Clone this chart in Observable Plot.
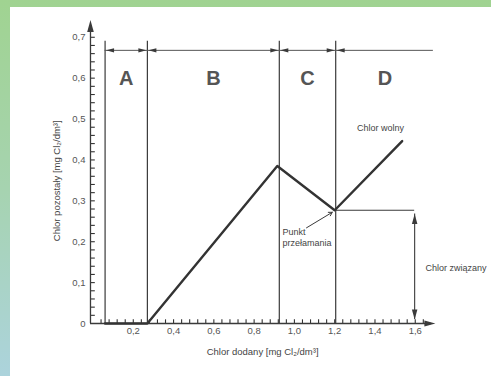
<!DOCTYPE html>
<html>
<head>
<meta charset="utf-8">
<script src="https://cdn.jsdelivr.net/npm/d3@7"></script>
<script src="https://cdn.jsdelivr.net/npm/@observablehq/plot@0.6"></script>
<style>
  html, body { margin: 0; padding: 0; }
  #wrap { position: relative; width: 491px; height: 376px; overflow: hidden;
          background: linear-gradient(to bottom, #a0d391 0%, #a6d3b0 50%, #acd3dc 100%); }
  #paper { position: absolute; left: 10px; top: 7px; right: 0; bottom: 0; background: #fff; }
  #chart { position: absolute; left: 0; top: 0; }
  #chart svg { background: transparent; }
</style>
</head>
<body>
<div id="wrap"><div id="paper"></div><div id="chart"></div></div>
<script>
// ---- data ----
const curveX = [0.06, 0.27, 0.915, 1.2, 1.535];
const curveY = [0, 0, 0.385, 0.277, 0.446];
const boundaries = [0.06, 0.27, 0.925, 1.205];
const zoneLabels = ["A", "B", "C", "D"];
const zoneCenters = [0.165, 0.598, 1.065, 1.45];
const yTicks = [0, 0.1, 0.2, 0.3, 0.4, 0.5, 0.6, 0.7];
const yTickLabels = ["0", "0,1", "0,2", "0,3", "0,4", "0,5", "0,6", "0,7"];
const xTicks = [0.2, 0.4, 0.6, 0.8, 1.0, 1.2, 1.4, 1.6];
const xTickLabels = ["0,2", "0,4", "0,6", "0,8", "1,0", "1,2", "1,4", "1,6"];
const breakPoint = {x: 1.2, y: 0.277};
const boundChlorX = 1.597;
const xTitle = "Chlor dodany [mg Cl₂/dm³]";
const yTitle = "Chlor pozostały [mg Cl₂/dm³]";
const notesMiddle = [
  {text: "Chlor wolny", x: 1.427, y: 0.478}
];
const notesStart = [
  {text: "Punkt", x: 0.941, y: 0.2244},
  {text: "przełamania", x: 0.941, y: 0.1976},
  {text: "Chlor związany", x: 1.651, y: 0.1366}
];

// ---- helpers ----
const curve = curveX.map((x, i) => ({x, y: curveY[i]}));
const axisX0 = -0.0125;
const xMax = 1.7, yMax = 0.742;
const arrowY = 0.668, boundTop = 0.69;
const yMinor = d3.range(0.02, 0.7001, 0.02);
const xMinor = d3.range(0.04, 1.641, 0.04);
const ink = "#3a3a3a";
const head = {
  draw(ctx, size) {
    const r = Math.sqrt(size / Math.PI);
    ctx.moveTo(0, 0);
    ctx.lineTo(0.55 * r, 2 * r);
    ctx.lineTo(-0.55 * r, 2 * r);
    ctx.closePath();
  }
};
const topLeftHeads = boundaries.map(b => ({x: b}));
const topRightHeads = boundaries.slice(1).map(b => ({x: b}));
const zones = zoneLabels.map((t, i) => ({t, x: zoneCenters[i]}));

const chart = Plot.plot({
  width: 491, height: 376,
  marginLeft: 92.5, marginRight: 56.1, marginTop: 19.6, marginBottom: 53,
  x: {domain: [0, xMax]},
  y: {domain: [0, yMax]},
  style: {fontFamily: "'Liberation Sans', Arial, sans-serif", fontSize: "9.5px", color: "#555", background: "transparent"},
  marks: [
    // axes labels
    Plot.axisY({ticks: yTicks, tickFormat: d => yTickLabels[yTicks.indexOf(d)], tickSize: 0, tickPadding: 7.5, label: null}),
    Plot.axisX({ticks: xTicks, tickFormat: d => xTickLabels[xTicks.indexOf(d)], tickSize: 0, tickPadding: 4, label: null}),
    // minor ticks
    Plot.ruleY(yMinor, {y: d => d, x1: axisX0, x2: axisX0 + 0.024, stroke: "#333", strokeWidth: 1.1}),
    Plot.ruleX(xMinor, {x: d => d, y1: 0, y2: 0.009, stroke: "#333", strokeWidth: 1.1}),
    // axis lines
    Plot.ruleX([axisX0], {y1: 0, y2: 0.72, stroke: ink, strokeWidth: 1.3}),
    Plot.ruleY([0], {x1: axisX0, x2: 1.68, stroke: ink, strokeWidth: 1.3}),
    Plot.dot([{x: axisX0, y: yMax}], {x: "x", y: "y", symbol: head, r: 6, fill: ink, stroke: "none"}),
    Plot.dot([{x: xMax, y: 0}], {x: "x", y: "y", symbol: head, r: 5.5, rotate: 90, fill: ink, stroke: "none"}),
    // zone boundaries
    Plot.ruleX(boundaries, {x: d => d, y1: 0, y2: boundTop, stroke: ink, strokeWidth: 1.2}),
    Plot.ruleY([arrowY], {x1: boundaries[0], x2: 1.69, stroke: "#555", strokeWidth: 1}),
    Plot.dot(topLeftHeads, {x: "x", y: arrowY, dx: 1, symbol: head, r: 4, rotate: -90, fill: ink, stroke: "none"}),
    Plot.dot(topRightHeads, {x: "x", y: arrowY, dx: -1, symbol: head, r: 4, rotate: 90, fill: ink, stroke: "none"}),
    Plot.text(zones, {x: "x", y: 0.6, text: "t", fontSize: 20, fontWeight: "bold", fill: "#555"}),
    // bound chlorine bracket
    Plot.ruleY([breakPoint.y], {x1: breakPoint.x, x2: boundChlorX, stroke: ink, strokeWidth: 1.1}),
    Plot.ruleX([boundChlorX], {y1: 0.01, y2: 0.268, stroke: ink, strokeWidth: 1.1}),
    Plot.dot([{x: boundChlorX, y: 0.268}], {x: "x", y: "y", symbol: head, r: 5, fill: ink, stroke: "none"}),
    Plot.dot([{x: boundChlorX, y: 0.01}], {x: "x", y: "y", symbol: head, r: 5, rotate: 180, fill: ink, stroke: "none"}),
    // curve
    Plot.line(curve, {x: "x", y: "y", stroke: "#333", strokeWidth: 2.4, strokeLinejoin: "round"}),
    // breakpoint arrow
    Plot.arrow([{x1: 1.06, y1: 0.234, x2: 1.188, y2: 0.272}], {x1: "x1", y1: "y1", x2: "x2", y2: "y2", stroke: ink, strokeWidth: 1, headLength: 6}),
    // annotations
    Plot.text(notesMiddle, {x: "x", y: "y", text: "text", textAnchor: "middle", fontSize: 9, fill: "#444"}),
    Plot.text(notesStart, {x: "x", y: "y", text: "text", textAnchor: "start", fontSize: 9, fill: "#444"}),
    Plot.text([xTitle], {x: 0.842, y: -0.0707, text: d => d, fontSize: 9.5, fill: "#444"}),
    Plot.text([yTitle], {x: -0.181, y: 0.349, text: d => d, rotate: -90, fontSize: 9.5, fill: "#444"})
  ]
});
document.getElementById("chart").appendChild(chart);
</script>
</body>
</html>
